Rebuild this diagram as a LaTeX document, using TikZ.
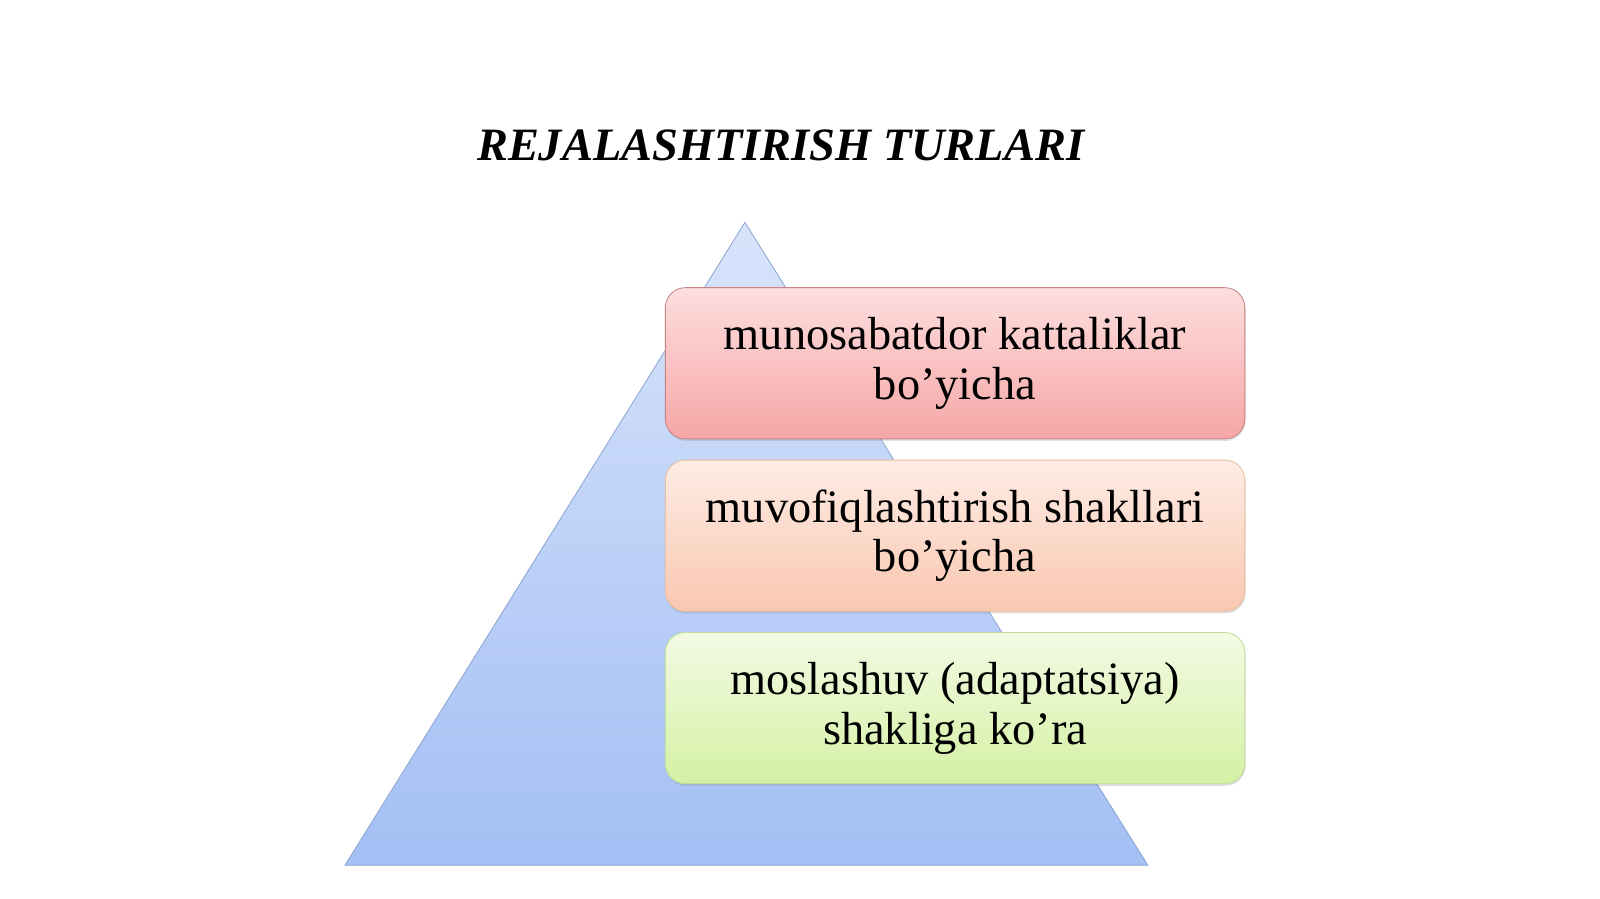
\documentclass[tikz,border=0pt]{standalone}
\usepackage{fontspec}
\setmainfont{Liberation Serif}
\usetikzlibrary{positioning}
\usetikzlibrary{shadows}
\definecolor{pyrtop}{HTML}{D8E4FB}
\definecolor{pyrbot}{HTML}{A3BFF4}
\definecolor{pyredge}{HTML}{8EA6D0}
\definecolor{redtop}{HTML}{FDDEDE}
\definecolor{redbot}{HTML}{F6A6A6}
\definecolor{rededge}{HTML}{C98585}
\definecolor{pchtop}{HTML}{FEECE4}
\definecolor{pchbot}{HTML}{F9C7B0}
\definecolor{pchedge}{HTML}{E8BFA0}
\definecolor{grntop}{HTML}{F3FAE4}
\definecolor{grnbot}{HTML}{D4F1A4}
\definecolor{grnedge}{HTML}{C2DE9A}
\tikzset{
  layer/.style={rounded corners=0.5cm, minimum width=14.49cm, minimum height=3.78cm,
    align=center, font=\fontsize{33}{35.5}\selectfont, line width=0.6pt,
    drop shadow={shadow xshift=0.5pt, shadow yshift=-1.5pt, opacity=0.25}},
}

\begin{document}
\begin{tikzpicture}[x=0.02551cm, y=-0.02551cm]
          \useasboundingbox (0,0) rectangle (1568,881);
          \node[font=\fontsize{33}{40}\selectfont\bfseries\itshape] (title) at (765,142) {REJALASHTIRISH TURLARI};

          \coordinate (apex) at (730,218);
          \coordinate (baseL) at (338,848);
          \coordinate (baseR) at (1125,848);
          \shade[top color=pyrtop, bottom color=pyrbot] (apex) -- (baseL) -- (baseR) -- cycle;
          \draw[pyredge, line width=0.6pt] (apex) -- (baseL) -- (baseR) -- cycle;

          \node[layer, draw=rededge, top color=redtop, bottom color=redbot] (rel) at (936,356) {munosabatdor kattaliklar\\bo’yicha};
          \node[layer, draw=pchedge, top color=pchtop, bottom color=pchbot, below=0.51cm of rel] (coord) {muvofiqlashtirish shakllari\\bo’yicha};
          \node[layer, draw=grnedge, top color=grntop, bottom color=grnbot, below=0.51cm of coord] (adapt) {moslashuv (adaptatsiya)\\shakliga ko’ra};
        \end{tikzpicture}
\end{document}
